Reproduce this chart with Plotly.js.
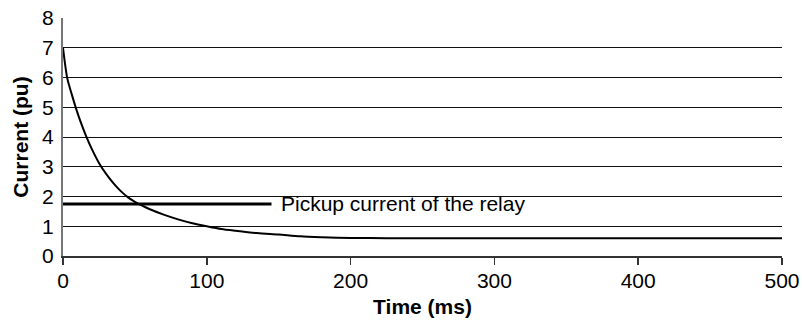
<!DOCTYPE html>
<html>
<head>
<meta charset="utf-8">
<script src="https://cdn.plot.ly/plotly-3.0.1.min.js"></script>
<style>html,body{margin:0;padding:0;background:#fff;}#chart{width:802px;height:323px;}</style>
</head>
<body>
<div id="chart"></div>
<script>
const timeMs = [0,3,6,9,12,16,20,25,30,35,40,45,50,55,60,70,80,90,100,110,120,135,150,165,180,200,225,250,300,350,400,450,500];
const currentPu = [7.0,5.97,5.45,4.97,4.54,4.04,3.60,3.13,2.76,2.45,2.19,1.98,1.82,1.69,1.58,1.39,1.23,1.10,1.00,0.91,0.85,0.77,0.72,0.66,0.63,0.605,0.60,0.60,0.60,0.60,0.60,0.60,0.60];
const pickupTime = [0,145];
const pickupCurrent = [1.75,1.75];
const pickupLabel = "Pickup current of the relay";
const xTicks = [0,100,200,300,400,500];
const yTicks = [0,1,2,3,4,5,6,7,8];

const font = "Liberation Sans, Arial, sans-serif";
const data = [
  {x: timeMs, y: currentPu, type: 'scatter', mode: 'lines', line: {color: '#000', width: 2, shape: 'spline', smoothing: 0.8}, hoverinfo: 'skip'},
  {x: pickupTime, y: pickupCurrent, type: 'scatter', mode: 'lines', line: {color: '#000', width: 3}, hoverinfo: 'skip'}
];
const layout = {
  width: 802, height: 323,
  margin: {l: 63, r: 20, t: 18, b: 67},
  paper_bgcolor: '#fff', plot_bgcolor: '#fff',
  showlegend: false,
  font: {family: font, size: 21, color: '#000'},
  xaxis: {
    range: [0, 500], tickvals: xTicks, ticktext: xTicks.map(String),
    showgrid: false, zeroline: false,
    showline: true, linecolor: '#333', linewidth: 1.5,
    ticks: 'outside', ticklen: 7, tickcolor: '#333', tickwidth: 1.5,
    ticklabelstandoff: -2,
    tickfont: {family: font, size: 21},
    title: {text: '<b>Time (ms)</b>', font: {family: font, size: 21}, standoff: 8}
  },
  yaxis: {
    range: [0, 8], tickvals: yTicks, ticktext: yTicks.map(String),
    showgrid: true, gridcolor: '#111', gridwidth: 1,
    zeroline: false,
    showline: true, linecolor: '#777', linewidth: 2,
    ticks: '', ticklabelstandoff: 3,
    tickfont: {family: font, size: 21},
    title: {text: '<b>Current (pu)</b>', font: {family: font, size: 21}, standoff: 8}
  },
  annotations: [
    {x: 150, y: 1.75, xref: 'x', yref: 'y', text: pickupLabel, showarrow: false, xanchor: 'left', yanchor: 'middle', font: {family: font, size: 21, color: '#000'}}
  ]
};
Plotly.newPlot('chart', data, layout, {staticPlot: true, displayModeBar: false});
</script>
</body>
</html>
